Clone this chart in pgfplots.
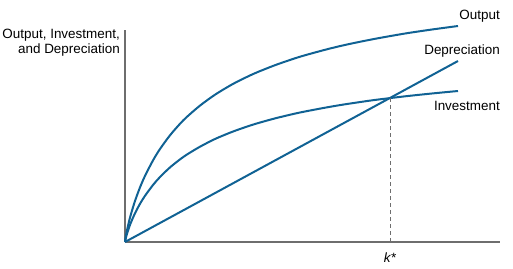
\documentclass[border=0pt]{standalone}
\usepackage{pgfplots}
\pgfplotsset{compat=1.18}
\usepackage{fontspec}
\setmainfont{Liberation Sans}
\definecolor{curve}{RGB}{16,98,148}
\definecolor{axgray}{RGB}{110,110,110}
\begin{document}
\begin{tikzpicture}[x=1bp,y=1bp]
\begin{axis}[
  at={(0,0)}, anchor=origin,
  scale only axis, width=375bp, height=212bp,
  xmin=0, xmax=375, ymin=0, ymax=212,
  axis lines=left, axis line style={axgray, line width=1.3bp, -},
  xtick=\empty, ytick=\empty,
  clip=false,
]
% Output
\addplot[curve, line width=2bp, smooth] coordinates {
(0,0) (1,6.6) (2,11.7) (4,20.4) (6,28.0) (10,41.0) (15,54.6) (20,66.1) (28,81.6) (35,93.0) (45,106.7) (55,118.2) (62,125.2) (75,136.4) (90,147.3) (105,156.4) (115,161.7) (130,168.8) (150,176.8) (170,183.7) (182,187.3) (200,192.2) (215,195.9) (230,199.2) (248,202.8) (265,205.9) (282,208.8) (300,211.5) (315,213.6) (333,216)};
% Investment
\addplot[curve, line width=2bp, smooth] coordinates {
(0,0) (1,4.6) (2,8.2) (4,14.3) (6,19.6) (10,28.7) (15,38.2) (20,46.2) (28,57.0) (35,65.0) (45,74.6) (55,82.6) (62,87.5) (75,95.3) (90,103.0) (105,109.3) (115,113.0) (130,118.0) (150,123.6) (170,128.4) (182,130.9) (200,134.3) (215,136.9) (230,139.2) (248,141.8) (265,143.9) (282,145.9) (300,147.8) (315,149.3) (333,151.0)};
% Depreciation
\addplot[curve, line width=2bp] coordinates {(0,0) (333,181)};
\addplot[axgray, line width=1bp, dash pattern=on 4bp off 3bp] coordinates {(265,144) (265,0)};
\node[anchor=east, inner sep=0pt, font=\fontsize{13.5}{15}\selectfont] at (axis cs:375,226) {Output};
\node[anchor=east, inner sep=0pt, font=\fontsize{13.5}{15}\selectfont] at (axis cs:375,191) {Depreciation};
\node[anchor=east, inner sep=0pt, font=\fontsize{13.5}{15}\selectfont] at (axis cs:375,136) {Investment};
\node[inner sep=0pt, font=\fontsize{13.5}{15}\selectfont] at (axis cs:265,-16) {\textit{k*}};
\node[anchor=north east, align=right, inner sep=0pt, font=\fontsize{13.5}{15}\selectfont] at (axis cs:-5,213) {Output, Investment,\\and Depreciation};
\end{axis}
\useasboundingbox (-125,-26) rectangle (388,242);
\end{tikzpicture}
\end{document}
